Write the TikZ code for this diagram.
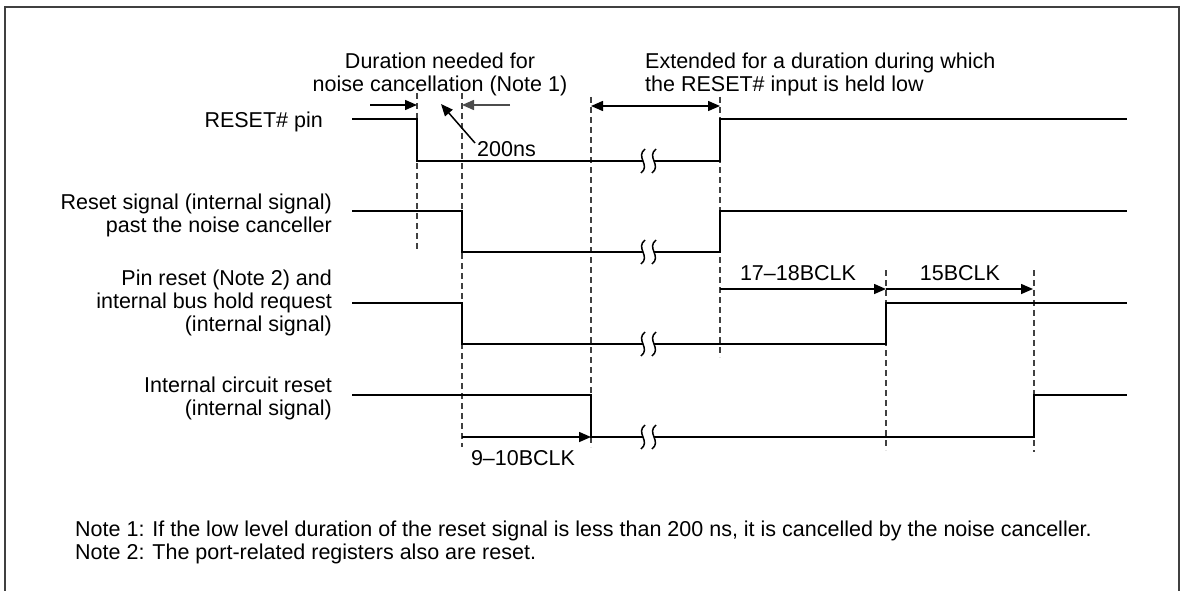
\documentclass[tikz,border=0pt]{standalone}
\usepackage{fontspec}
\setmainfont{Liberation Sans}
\usetikzlibrary{arrows.meta}
\begin{document}
\begin{tikzpicture}[x=1pt,y=-1pt,
  txt/.style={inner sep=0pt,font=\fontsize{21.5}{23}\selectfont},
  sig/.style={line width=2pt,line join=miter},
  guide/.style={line width=1.3pt,black!75,dash pattern=on 6pt off 4pt},
  dim/.style={line width=1.5pt,-{Triangle[length=12pt,width=10pt]}},
  frame/.style={line width=1.6pt,black!75}]
\useasboundingbox (0,0) rectangle (1185,591);
\draw[frame] (5,591) -- (5,7) -- (1179,7) -- (1179,591);

% guide lines
\draw[guide] (417,93) -- (417,252);
\draw[guide] (462,93) -- (462,447);
\draw[guide] (591,97) -- (591,447);
\draw[guide] (720,97) -- (720,357);
\draw[guide] (886,270) -- (886,450);
\draw[guide] (1034,270) -- (1034,452);

% signals
\draw[sig] (352,119) -- (417,119) -- (417,161) -- (643,161);
\draw[sig] (654,161) -- (720,161) -- (720,119) -- (1127,119);
\draw[sig] (352,211) -- (462,211) -- (462,252) -- (643,252);
\draw[sig] (654,252) -- (720,252) -- (720,211) -- (1127,211);
\draw[sig] (352,303) -- (462,303) -- (462,344) -- (643,344);
\draw[sig] (654,344) -- (886,344) -- (886,303) -- (1127,303);
\draw[sig] (352,395) -- (591,395) -- (591,437) -- (643,437);
\draw[sig] (654,437) -- (1034,437) -- (1034,395) -- (1127,395);

% break marks
\foreach \yy in {161,252,344,437}{
  \foreach \xx in {643,654}{
    \draw[line width=1.5pt] (\xx+2,\yy-12) .. controls (\xx-8,\yy-4) and (\xx+8,\yy+4) .. (\xx-2,\yy+12);
  }
}

% dimension arrows
\coordinate (a1s) at (370,105); \coordinate (a1e) at (417,105);
\coordinate (a2s) at (510,105); \coordinate (a2e) at (462,105);
\coordinate (a3s) at (591,106); \coordinate (a3e) at (720,106);
\draw[dim] (a1s) -- (a1e);
\draw[dim,black!70] (a2s) -- (a2e);
\draw[dim,{Triangle[length=12pt,width=10pt]}-{Triangle[length=12pt,width=10pt]}] (a3s) -- (a3e);

\node[txt,anchor=base west] (t200) at (477,156) {200ns};
\coordinate (p200) at (441,104);
\draw[line width=1.5pt,-{Triangle[length=12pt,width=10pt]}] (475,143) -- (p200);

\coordinate (b1) at (720,289); \coordinate (b2) at (886,289); \coordinate (b3) at (1033,289);
\draw[dim] (b1) -- (b2);
\draw[dim] (b2) -- (b3);
\node[txt,anchor=base] (t1718) at (798,280) {17--18BCLK};
\node[txt,anchor=base] (t15) at (960,280) {15BCLK};

\coordinate (c1) at (462,437); \coordinate (c2) at (591,437);
\draw[dim] (c1) -- (c2);
\node[txt,anchor=base] (t910) at (523,465) {9--10BCLK};

% top labels (base = last line)
\node[txt,anchor=base,align=center] (tdur) at (440,92) {Duration needed for\\noise cancellation (Note 1)};
\node[txt,anchor=base west,align=left] (text) at (645,92) {Extended for a duration during which\\the RESET\# input is held low};

% left labels (base = last line)
\node[txt,anchor=base east] (l1) at (323,128) {RESET\# pin};
\node[txt,anchor=base east,align=right] (l2) at (332,232) {Reset signal (internal signal)\\past the noise canceller};
\node[txt,anchor=base east,align=right] (l3) at (332,331) {Pin reset (Note 2) and\\internal bus hold request\\(internal signal)};
\node[txt,anchor=base east,align=right] (l4) at (332,415) {Internal circuit reset\\(internal signal)};

% notes
\node[txt,anchor=base west,align=left] (notes) at (75,559) {Note 1: If the low level duration of the reset signal is less than 200 ns, it is cancelled by the noise canceller.\\Note 2: The port-related registers also are reset.};
\end{tikzpicture}
\end{document}
